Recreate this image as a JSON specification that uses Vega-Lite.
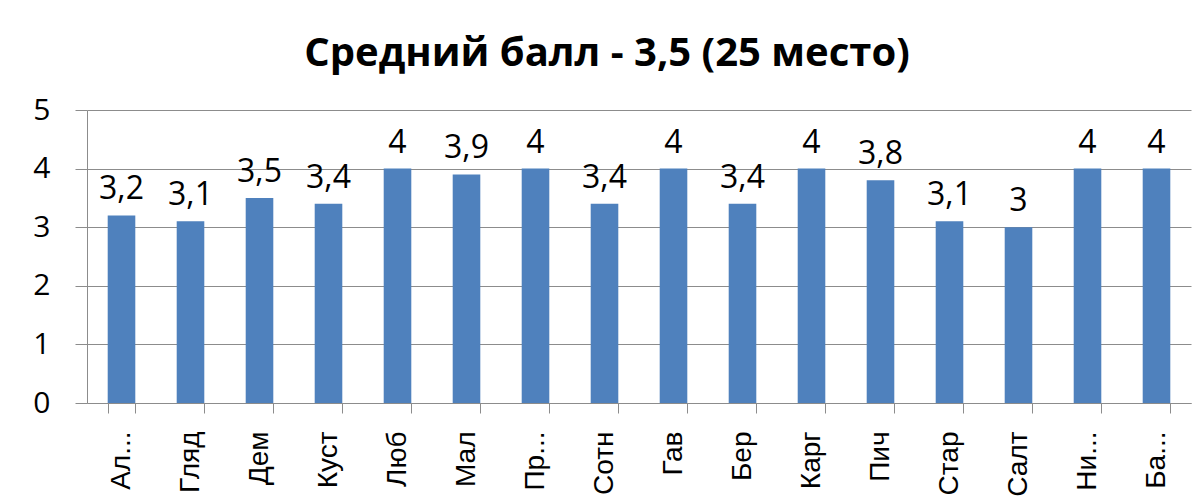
{
  "$schema": "https://vega.github.io/schema/vega-lite/v6.json",
  "width": 1104,
  "height": 293,
  "autosize": {"type": "none"},
  "padding": {"left": 87, "top": 110, "right": 3, "bottom": 101},
  "background": "white",
  "title": {
    "text": "Средний балл - 3,5 (25 место)",
    "anchor": "middle",
    "dx": -32,
    "offset": 21,
    "font": "Open Sans",
    "fontSize": 40,
    "fontWeight": "bold",
    "color": "black"
  },
  "data": {
    "values": [
      {"name": "Ал...", "value": 3.2},
      {"name": "Гляд", "value": 3.1},
      {"name": "Дем", "value": 3.5},
      {"name": "Куст", "value": 3.4},
      {"name": "Люб", "value": 4},
      {"name": "Мал", "value": 3.9},
      {"name": "Пр...", "value": 4},
      {"name": "Сотн", "value": 3.4},
      {"name": "Гав", "value": 4},
      {"name": "Бер", "value": 3.4},
      {"name": "Карг", "value": 4},
      {"name": "Пич", "value": 3.8},
      {"name": "Стар", "value": 3.1},
      {"name": "Салт", "value": 3},
      {"name": "Ни...", "value": 4},
      {"name": "Ба...", "value": 4}
    ]
  },
  "encoding": {
    "x": {
      "field": "name",
      "type": "nominal",
      "sort": null,
      "scale": {"paddingInner": 0.6, "paddingOuter": 0.3},
      "axis": {
        "title": null,
        "labelAngle": -90,
        "labelAlign": "right",
        "labelBaseline": "middle",
        "labelFont": "Liberation Sans",
        "labelFontSize": 28,
        "labelColor": "black",
        "labelPadding": 18,
        "tickBand": "extent",
        "tickSize": 10,
        "tickColor": "#8c8c8c",
        "domainColor": "#8c8c8c",
        "labelLimit": 200
      }
    },
    "y": {
      "field": "value",
      "type": "quantitative",
      "scale": {"domain": [0, 5], "nice": false},
      "axis": {
        "title": null,
        "values": [0, 1, 2, 3, 4, 5],
        "grid": true,
        "gridColor": "#8c8c8c",
        "domainColor": "#8c8c8c",
        "tickColor": "#8c8c8c",
        "tickSize": 12,
        "labelFont": "Open Sans",
        "labelFontSize": 30,
        "labelColor": "black",
        "labelPadding": 25
      }
    }
  },
  "layer": [
    {"mark": {"type": "bar", "color": "#4F81BD"}},
    {
      "mark": {"type": "text", "baseline": "bottom", "dy": -9, "font": "Open Sans", "fontSize": 32, "color": "black"},
      "encoding": {"text": {"field": "value", "type": "quantitative", "format": "~g"}}
    }
  ],
  "config": {
    "view": {"stroke": null},
    "locale": {"number": {"decimal": ",", "thousands": " ", "grouping": [3], "currency": ["", ""]}}
  }
}
